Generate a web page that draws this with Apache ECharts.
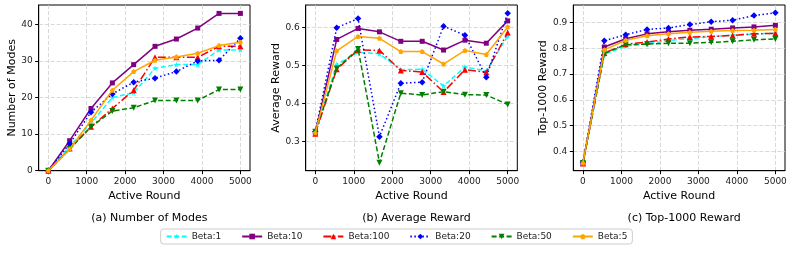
<!DOCTYPE html>
<html><head><meta charset="utf-8">
<script src="https://cdn.jsdelivr.net/npm/echarts@6/dist/echarts.min.js"></script>
<style>html,body{margin:0;padding:0;background:#fff}#c{width:793px;height:253px}</style>
</head><body><div id="c"></div>
<script>
// ---- data ----
const rounds = [0, 556, 1111, 1667, 2222, 2778, 3333, 3889, 4444, 5000];
const seriesNames = ['Beta:1', 'Beta:10', 'Beta:100', 'Beta:20', 'Beta:50', 'Beta:5'];

const modes_b1   = [0, 6.6, 13, 20, 21.3, 28, 29, 29, 33, 33];
const modes_b10  = [0, 8.2, 17, 24, 29, 34, 36, 39, 43, 43];
const modes_b100 = [0, 6.1, 12, 17, 22, 31, 31, 31, 34, 34];
const modes_b20  = [0, 7.4, 16, 21, 24.2, 25.3, 27.1, 30, 30.2, 36.2];
const modes_b50  = [0, 5.9, 12, 16.3, 17.2, 19.2, 19.2, 19.2, 22.2, 22.2];
const modes_b5   = [0, 5.9, 13.8, 22, 27.1, 30.2, 31.1, 32.1, 34.2, 35.1];

const avg_b1   = [0.325, 0.503, 0.535, 0.531, 0.489, 0.490, 0.446, 0.496, 0.486, 0.578];
const avg_b10  = [0.322, 0.569, 0.598, 0.589, 0.564, 0.564, 0.541, 0.567, 0.559, 0.618];
const avg_b100 = [0.320, 0.490, 0.541, 0.540, 0.487, 0.483, 0.430, 0.489, 0.482, 0.587];
const avg_b20  = [0.325, 0.600, 0.624, 0.312, 0.453, 0.456, 0.604, 0.580, 0.469, 0.638];
const avg_b50  = [0.325, 0.492, 0.544, 0.243, 0.427, 0.422, 0.431, 0.423, 0.422, 0.397];
const avg_b5   = [0.322, 0.539, 0.577, 0.572, 0.537, 0.537, 0.504, 0.540, 0.529, 0.602];

const top_b1   = [0.355, 0.776, 0.809, 0.818, 0.830, 0.838, 0.845, 0.851, 0.855, 0.859];
const top_b10  = [0.353, 0.805, 0.837, 0.856, 0.864, 0.870, 0.874, 0.879, 0.883, 0.889];
const top_b100 = [0.353, 0.782, 0.816, 0.824, 0.836, 0.844, 0.846, 0.850, 0.856, 0.858];
const top_b20  = [0.358, 0.829, 0.853, 0.873, 0.879, 0.892, 0.903, 0.909, 0.927, 0.938];
const top_b50  = [0.355, 0.780, 0.814, 0.816, 0.820, 0.820, 0.823, 0.827, 0.833, 0.836];
const top_b5   = [0.355, 0.794, 0.831, 0.849, 0.856, 0.862, 0.866, 0.869, 0.870, 0.873];

const xTicks = [0, 1000, 2000, 3000, 4000, 5000];
const yTicksModes = [0, 10, 20, 30, 40];
const yTicksAvg = [0.3, 0.4, 0.5, 0.6];
const yTicksTop = [0.4, 0.5, 0.6, 0.7, 0.8, 0.9];

const panelTitles = ['(a) Number of Modes', '(b) Average Reward', '(c) Top-1000 Reward'];
const yNames = ['Number of Modes', 'Average Reward', 'Top-1000 Reward'];
const xName = 'Active Round';

// ---- styles ----
const FONT = 'DejaVu Sans';
const STAR = 'path://M0,-100L22,-31L95,-31L36,12L59,81L0,38L-59,81L-36,12L-95,-31L-22,-31Z';
const PENT = 'path://M0,-100L95,-31L59,81L-59,81L-95,-31Z';
const styles = [
  {color: '#00FFFF', symbol: STAR, size: 6, type: [5, 2.5], rot: 0},
  {color: '#800080', symbol: 'rect', size: 5, type: 'solid', rot: 0},
  {color: '#FF0000', symbol: 'triangle', size: 6, type: [8, 2.5, 1.5, 2.5], rot: 0},
  {color: '#0000FF', symbol: 'diamond', size: 6.5, type: [1.5, 2.5], rot: 0},
  {color: '#008000', symbol: 'triangle', size: 6, type: [5, 2.5], rot: 180},
  {color: '#FFA500', symbol: PENT, size: 5, type: 'solid', rot: 0}
];
const panels = [
  [modes_b1, modes_b10, modes_b100, modes_b20, modes_b50, modes_b5],
  [avg_b1, avg_b10, avg_b100, avg_b20, avg_b50, avg_b5],
  [top_b1, top_b10, top_b100, top_b20, top_b50, top_b5]
];
const yRanges = [[0, 45.3], [0.222, 0.660], [0.325, 0.968]];
const yTickSets = [yTicksModes, yTicksAvg, yTicksTop];
const yFormat = [v => String(v), v => v.toFixed(1), v => v.toFixed(1)];
const gridLeft = [38.7, 305.7, 573.3];
const gridW = [211.3, 211.6, 211.7];
const yNameGap = [21, 23.5, 24];

const grids = [], xAxes = [], yAxes = [], series = [], titles = [];
for (let p = 0; p < 3; p++) {
  grids.push({left: gridLeft[p], top: 5, width: gridW[p], height: 165.7, show: true,
    borderColor: '#000', borderWidth: 1, backgroundColor: 'transparent', containLabel: false, outerBoundsMode: 'none'});
  xAxes.push({type: 'value', gridIndex: p, min: -250, max: 5250,
    name: xName, nameLocation: 'middle', nameGap: 18,
    nameTextStyle: {fontFamily: FONT, fontSize: 11, color: '#000'},
    axisLine: {show: true, onZero: false, lineStyle: {color: '#000', width: 1}},
    axisTick: {show: true, inside: false, length: 3.5, customValues: xTicks, lineStyle: {color: '#000', width: 1}},
    axisLabel: {show: true, customValues: xTicks, margin: 6, fontFamily: FONT, fontSize: 9, color: '#222',
      formatter: v => String(v)},
    splitLine: {show: true, lineStyle: {color: '#cfcfcf', type: [4, 2], width: 0.8}}
  });
  yAxes.push({type: 'value', gridIndex: p, min: yRanges[p][0], max: yRanges[p][1],
    name: yNames[p], nameLocation: 'middle', nameGap: yNameGap[p],
    nameTextStyle: {fontFamily: FONT, fontSize: 11, color: '#000'},
    axisLine: {show: true, onZero: false, lineStyle: {color: '#000', width: 1}},
    axisTick: {show: true, inside: false, length: 3.5, customValues: yTickSets[p], lineStyle: {color: '#000', width: 1}},
    axisLabel: {show: true, customValues: yTickSets[p], margin: 6, fontFamily: FONT, fontSize: 9, color: '#222',
      formatter: yFormat[p]},
    splitLine: {show: true, lineStyle: {color: '#cfcfcf', type: [4, 2], width: 0.8}}
  });
  titles.push({text: panelTitles[p], left: gridLeft[p] + gridW[p] / 2, top: 208, textAlign: 'center',
    textStyle: {fontFamily: FONT, fontSize: 11, fontWeight: 'normal', color: '#000'}});
  for (let s = 0; s < 6; s++) {
    const st = styles[s];
    series.push({
      name: seriesNames[s], type: 'line', xAxisIndex: p, yAxisIndex: p,
      data: rounds.map((r, i) => [r, panels[p][s][i]]),
      symbol: st.symbol, symbolSize: st.size, symbolRotate: st.rot, showSymbol: true,
      itemStyle: {color: st.color, borderWidth: 0},
      lineStyle: {color: st.color, width: 1.5, type: st.type},
      z: 2 + s, animation: false
    });
  }
}

const chart = echarts.init(document.getElementById('c'), null, {renderer: 'canvas'});
chart.setOption({
  animation: false,
  backgroundColor: '#fff',
  title: titles,
  grid: grids, xAxis: xAxes, yAxis: yAxes, series: series,
  legend: {data: seriesNames, left: 'center', top: 229, orient: 'horizontal',
    itemWidth: 20, itemHeight: 7, itemGap: 20, padding: [3, 5],
    borderColor: '#cccccc', borderWidth: 1, borderRadius: 3, backgroundColor: '#fff',
    textStyle: {fontFamily: FONT, fontSize: 9, color: '#222'}}
});
</script></body></html>
